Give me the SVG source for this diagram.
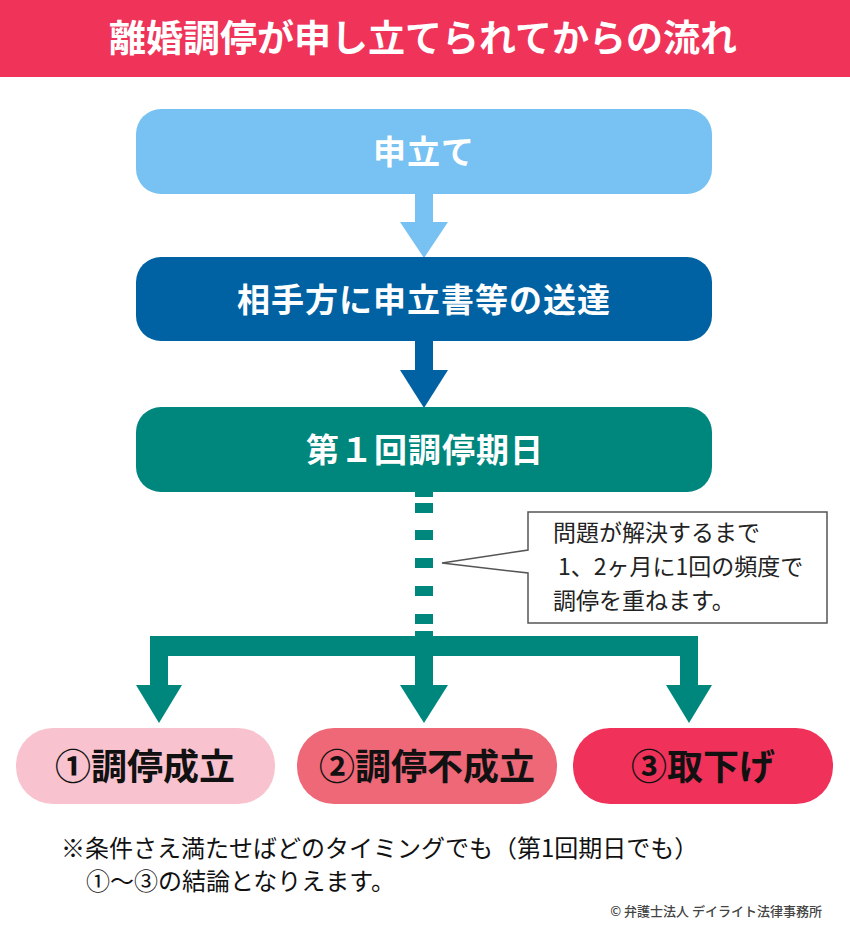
<svg xmlns="http://www.w3.org/2000/svg" width="850" height="941" viewBox="0 0 850 941">
  <style>
    .jp { font-family: "Noto Sans CJK JP", "Noto Sans", sans-serif; }
    .title { font-size: 37px; font-weight: 700; fill: #ffffff; text-anchor: middle; }
    .step { font-size: 33px; font-weight: 700; fill: #ffffff; text-anchor: middle; letter-spacing: 1px; }
    .result { font-size: 36px; font-weight: 700; fill: #111111; text-anchor: middle; }
    .note { font-size: 23px; font-weight: 400; fill: #222222; }
    .foot { font-size: 24px; font-weight: 400; fill: #111111; }
    .copy { font-size: 13px; font-weight: 500; fill: #444444; text-anchor: end; }
    .teal { fill: #00877D; }
  </style>

  <rect x="0" y="0" width="850" height="941" fill="#ffffff"/>

  <g id="title">
    <rect x="0" y="0" width="850" height="77" fill="#EF3359"/>
    <text class="jp title" x="423" y="52">離婚調停が申し立てられてからの流れ</text>
  </g>

  <g id="connectors">
    <!-- arrow 1 -->
    <rect x="415" y="192" width="18" height="31" fill="#78C1F3"/>
    <polygon points="400,222 448,222 424,258" fill="#78C1F3"/>
    <!-- arrow 2 -->
    <rect x="415" y="339" width="18" height="32" fill="#0062A3"/>
    <polygon points="400,370 448,370 424,408" fill="#0062A3"/>
    <!-- dashed line -->
    <g class="teal">
      <rect x="415" y="491" width="18" height="6"/>
      <rect x="415" y="503" width="18" height="10"/>
      <rect x="415" y="530" width="18" height="10"/>
      <rect x="415" y="558" width="18" height="10"/>
      <rect x="415" y="586" width="18" height="10"/>
      <rect x="415" y="614" width="18" height="10"/>
      <rect x="415" y="631" width="18" height="6"/>
    </g>
    <!-- branch -->
    <g class="teal">
      <rect x="150" y="636" width="548" height="20"/>
      <rect x="150" y="636" width="18" height="50"/>
      <rect x="415" y="636" width="18" height="50"/>
      <rect x="680" y="636" width="18" height="50"/>
      <polygon points="136,685 182,685 159,723"/>
      <polygon points="400,685 448,685 424,723"/>
      <polygon points="666,685 712,685 689,723"/>
    </g>
  </g>

  <g id="node-moushitate">
    <rect x="136" y="109" width="576" height="85" rx="25" fill="#78C1F3"/>
    <text class="jp step" x="424" y="164">申立て</text>
  </g>

  <g id="node-soutatsu">
    <rect x="136" y="257" width="576" height="84" rx="25" fill="#0062A3"/>
    <text class="jp step" x="424" y="312">相手方に申立書等の送達</text>
  </g>

  <g id="node-kijitsu">
    <rect x="136" y="407" width="576" height="85" rx="25" fill="#00877D"/>
    <text class="jp step" x="425" y="462">第１回調停期日</text>
  </g>

  <g id="callout">
    <path d="M528,512 H827 V623 H528 V573 L442,563 L528,550 Z" fill="#ffffff" stroke="#555555" stroke-width="1.5"/>
    <text class="jp note" x="553" y="541">問題が解決するまで</text>
    <text class="jp note" x="558" y="575">1、2ヶ月に1回の頻度で</text>
    <text class="jp note" x="553" y="609">調停を重ねます。</text>
  </g>

  <g id="node-seiritsu">
    <rect x="16" y="728" width="259" height="76" rx="37" fill="#F8C3CF"/>
    <text class="jp result" x="145" y="780">①調停成立</text>
  </g>

  <g id="node-fuseiritsu">
    <rect x="297" y="728" width="260" height="76" rx="37" fill="#EE6877"/>
    <text class="jp result" x="427" y="780">②調停不成立</text>
  </g>

  <g id="node-torisage">
    <rect x="573" y="728" width="260" height="76" rx="37" fill="#F0325A"/>
    <text class="jp result" x="703" y="780">③取下げ</text>
  </g>

  <g id="footnote">
    <text class="jp foot" x="61" y="857">※条件さえ満たせばどのタイミングでも（第1回期日でも）</text>
    <text class="jp foot" x="86" y="890">①～③の結論となりえます。</text>
  </g>

  <g id="copyright">
    <text class="jp copy" x="822" y="916">© 弁護士法人 デイライト法律事務所</text>
  </g>
</svg>
